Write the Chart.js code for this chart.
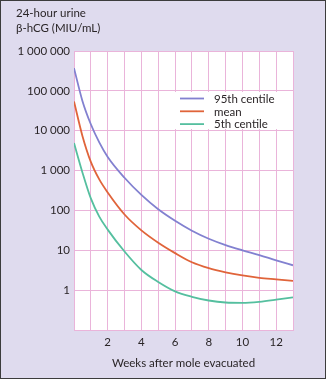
<!DOCTYPE html>
<html>
<head>
<meta charset="utf-8">
<script src="https://cdn.jsdelivr.net/npm/chart.js@4.4.1/dist/chart.umd.min.js"></script>
<style>
  html, body { margin: 0; padding: 0; background: #dfdbee; }
  #wrap { width: 326px; height: 379px; position: relative; }
</style>
</head>
<body>
<div id="wrap"><canvas id="hcgChart"></canvas></div>
<script>
/* data */
const weeks      = [0, 0.5, 1, 1.5, 2, 3, 4, 5, 6, 7, 8, 9, 10, 11, 12, 13];
const centile95  = [372000, 56000, 14500, 5100, 2200, 660, 245, 107, 55, 31, 19.5, 13.5, 10, 7.6, 5.6, 4.2];
const meanLevel  = [54000, 7400, 1650, 600, 282, 79, 31.6, 15.5, 8.5, 5.0, 3.55, 2.8, 2.34, 2.04, 1.86, 1.7];
const centile5   = [4900, 900, 200, 70, 33, 9.3, 3.2, 1.6, 0.93, 0.68, 0.55, 0.49, 0.48, 0.51, 0.575, 0.66];

const seriesNames  = ["95th centile", "mean", "5th centile"];
const seriesColors = ["#8281d0", "#e0643a", "#55bf9f"];

const yTickValues = [1, 10, 100, 1000, 10000, 100000, 1000000];
const yTickLabels = ["1", "10", "100", "1 000", "10 000", "100 000", "1 000 000"];
const xTickLabels = [2, 4, 6, 8, 10, 12];

const yTitle = ["24-hour urine", "β-hCG (MIU/mL)"];
const xTitle = "Weeks after mole evacuated";

const INK = "#2a2527";
const GRID = "#eab4da";
const PAPER = "#dfdbee";
const FONT = { family: "Lato", size: 11.5 };
const CSSFONT = "11.5px Lato";

const toPoints = vals => weeks.map((w, i) => ({ x: w, y: vals[i] }));

// background, legend box, titles and frame
const paperPlugin = {
  id: "paper",
  beforeDraw(chart) {
    const { ctx, chartArea: a, width, height } = chart;
    ctx.save();
    ctx.fillStyle = PAPER;
    ctx.fillRect(0, 0, width, height);
    ctx.fillStyle = "#fff";
    ctx.fillRect(a.left, a.top, a.right - a.left, a.bottom - a.top);
    ctx.restore();
  },
  beforeDatasetsDraw(chart) {
    const { ctx, chartArea: a } = chart;
    ctx.save();
    ctx.fillStyle = "#fff";
    ctx.fillRect(a.left + 94, a.top + 41, a.right - a.left - 95, 37);
    ctx.font = CSSFONT;
    ctx.textBaseline = "middle";
    ctx.textAlign = "left";
    chart.data.datasets.forEach((ds, i) => {
      const y = a.top + 47.5 + i * 12.8;
      ctx.strokeStyle = ds.borderColor;
      ctx.lineWidth = 1.8;
      ctx.beginPath();
      ctx.moveTo(a.left + 106, y);
      ctx.lineTo(a.left + 130, y);
      ctx.stroke();
      ctx.fillStyle = INK;
      ctx.fillText(ds.label, a.left + 140, y + 0.5);
    });
    ctx.restore();
  },
  afterDraw(chart) {
    const { ctx, chartArea: a, width, height } = chart;
    ctx.save();
    ctx.fillStyle = INK;
    ctx.font = CSSFONT;
    ctx.textBaseline = "alphabetic";
    ctx.textAlign = "left";
    ctx.fillText(yTitle[0], 16, 17);
    ctx.fillText(yTitle[1], 16, 32);
    ctx.textAlign = "center";
    ctx.fillText(xTitle, (a.left + a.right) / 2, 366.5);
    ctx.strokeStyle = "#3c3c3c";
    ctx.lineWidth = 1;
    ctx.strokeRect(0.5, 0.5, width - 1, height - 1);
    ctx.restore();
  }
};

new Chart(document.getElementById("hcgChart"), {
  type: "line",
  data: {
    datasets: [centile95, meanLevel, centile5].map((vals, i) => ({
      label: seriesNames[i],
      data: toPoints(vals),
      borderColor: seriesColors[i],
      borderWidth: 1.8,
      pointRadius: 0,
      fill: false,
      cubicInterpolationMode: "monotone"
    }))
  },
  options: {
    responsive: true,
    maintainAspectRatio: false,
    animation: false,
    layout: { padding: { top: 51, right: 33, bottom: 0, left: 0 } },
    plugins: {
      legend: { display: false },
      tooltip: { enabled: false }
    },
    scales: {
      x: {
        type: "linear",
        min: 0,
        max: 13,
        afterFit: s => { s.height = 49; },
        grid: { color: GRID, drawTicks: false },
        border: { color: GRID },
        ticks: {
          stepSize: 1,
          autoSkip: false,
          maxRotation: 0,
          padding: 5,
          color: INK,
          font: FONT,
          callback: v => xTickLabels.includes(v) ? String(v) : ""
        }
      },
      y: {
        type: "logarithmic",
        min: 0.1,
        max: 1000000,
        afterBuildTicks: s => {
          s.ticks = [0.1].concat(yTickValues).map(v => ({ value: v }));
        },
        afterFit: s => { s.width = 74; },
        grid: { color: GRID, drawTicks: false },
        border: { color: GRID },
        ticks: {
          padding: 4,
          color: INK,
          font: FONT,
          callback: v => {
            const i = yTickValues.indexOf(v);
            return i < 0 ? "" : yTickLabels[i];
          }
        }
      }
    }
  },
  plugins: [paperPlugin]
});
</script>
</body>
</html>
